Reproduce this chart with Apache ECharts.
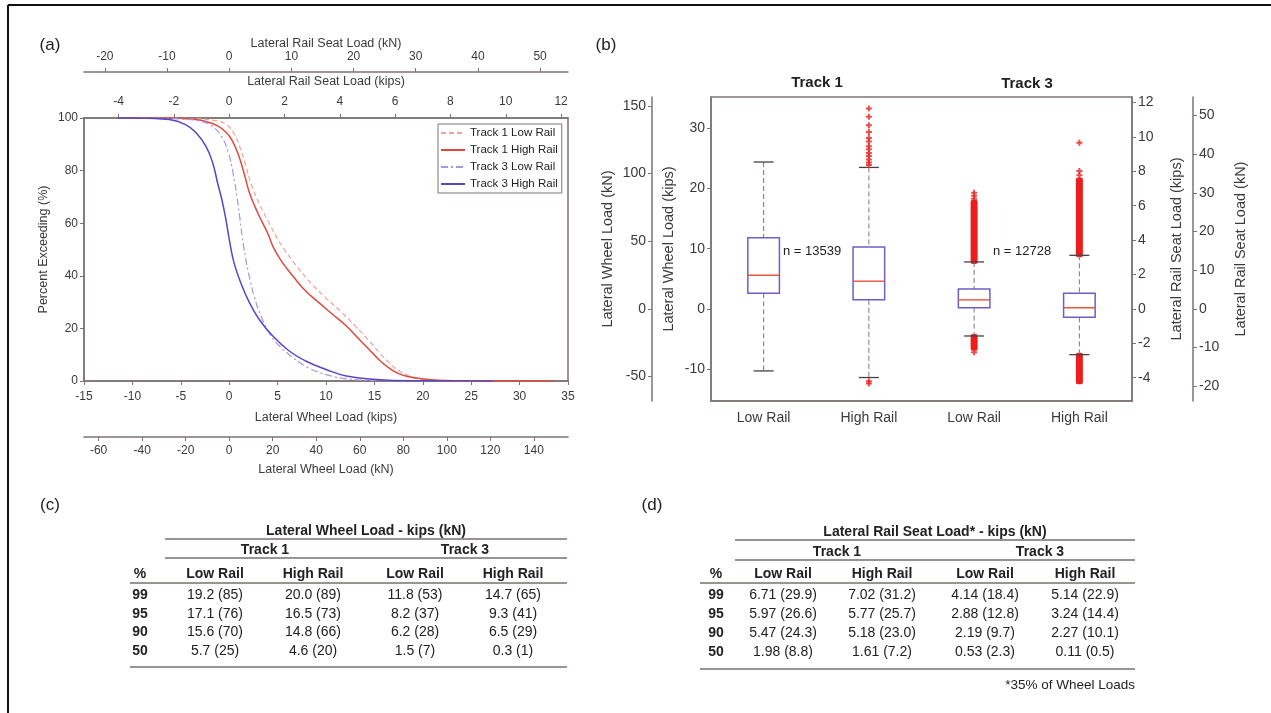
<!DOCTYPE html>
<html>
<head>
<meta charset="utf-8">
<script src="https://cdn.jsdelivr.net/npm/echarts@6/dist/echarts.min.js"></script>
<style>
html, body { margin: 0; padding: 0; background: #fff; }
#chart { width: 1271px; height: 713px; }
</style>
</head>
<body>
<div id="chart"></div>
<script>
// unit conversions used by the twin axes
const KN_PER_KIP = 4.448;
const SEAT_SHARE = 0.35;

// (a) percent exceeding vs lateral wheel load (kips)
const t1LowRail = [[-10,100],[-4,99.8],[-1.5,99],[-0.3,97.5],[0.5,94],[1.1,89],[1.7,82],[2.3,74.5],[3.1,67.5],[4.2,59.5],[5.0,54],[5.7,50],[7.0,43.5],[8.5,37],[10,31.5],[11.5,26.5],[13,21],[14.4,15.5],[15.6,10.5],[16.5,7],[17.1,5],[18.2,2.6],[19.2,1.1],[20.5,0.4],[23,0.1],[27,0]];
const t1HighRail = [[-10,100],[-6,100],[-4,99.6],[-2.5,98.8],[-1.2,97],[-0.3,94.5],[0.3,91.5],[0.9,86.5],[1.5,79.5],[2.1,71.5],[3.0,63.5],[4.0,56],[4.6,50.5],[5.5,45],[6.6,39.8],[7.9,34.2],[9.3,29.7],[10.7,25.3],[12.1,20.9],[13.4,16],[14.4,12.2],[15.5,8],[16.5,5],[17.5,2.8],[18.6,1.6],[20.0,0.8],[21.5,0.3],[24,0.1],[28,0.02],[33.5,0]];
const t3LowRail = [[-9,100],[-5,99.6],[-3,98.8],[-1.8,97],[-0.8,93],[-0.1,87],[0.4,79],[0.8,70],[1.1,62],[1.5,51],[2.0,41],[2.6,32],[3.3,24.5],[4.1,18.5],[5.0,14],[6.2,10],[7.2,7.2],[8.2,5],[9.5,3],[11,1.5],[11.8,1],[13.5,0.35],[16,0.08],[20,0]];
const t3HighRail = [[-11.5,100],[-9.3,100],[-6.2,99.4],[-4.5,97.5],[-3.4,94.3],[-2.4,89.2],[-1.7,82.9],[-1.2,75.3],[-0.76,69],[-0.34,61.4],[0.07,52.5],[0.5,44.9],[1.2,37.3],[2.1,29.7],[3.1,23.4],[4.5,17.1],[6.2,11.4],[7.9,7.6],[10,4.4],[12.1,1.9],[15.2,0.6],[18.6,0.1],[27.2,0]];

// (b) box plots, lateral wheel load (kips)
const railCats = ['Low Rail', 'High Rail', 'Low Rail', 'High Rail'];
const whiskerLow = [-10.3, -11.4, -4.5, -7.6];
const quart1 = [2.6, 1.5, 0.2, -1.4];
const medians = [5.6, 4.6, 1.5, 0.2];
const quart3 = [11.8, 10.3, 3.3, 2.6];
const whiskerHigh = [24.4, 23.5, 7.8, 8.9];
// dense runs of outliers: [category, from, to]
const denseOutliers = [[2, 7.8, 17.8], [2, -6.6, -4.5], [3, 8.9, 21.5], [3, -12.2, -7.6]];
// single outliers: [category, value]
const sparseOutliers = [[1,33.3],[1,31.9],[1,30.5],[1,29.4],[1,28.4],[1,27.8],[1,27.0],[1,26.5],[1,25.9],[1,25.4],[1,24.8],[1,24.3],[1,23.9],[1,-12.0],[1,-12.4],
  [2,18.3],[2,18.8],[2,19.3],[2,-7.2],[3,22.2],[3,22.9],[3,27.6]];
const sampleCounts = ['n = 13539', 'n = 12728'];

// (c) / (d) percentile tables
const pctRows = ['99', '95', '90', '50'];
const wheelT1Low = ['19.2 (85)', '17.1 (76)', '15.6 (70)', '5.7 (25)'];
const wheelT1High = ['20.0 (89)', '16.5 (73)', '14.8 (66)', '4.6 (20)'];
const wheelT3Low = ['11.8 (53)', '8.2 (37)', '6.2 (28)', '1.5 (7)'];
const wheelT3High = ['14.7 (65)', '9.3 (41)', '6.5 (29)', '0.3 (1)'];
const seatT1Low = ['6.71 (29.9)', '5.97 (26.6)', '5.47 (24.3)', '1.98 (8.8)'];
const seatT1High = ['7.02 (31.2)', '5.77 (25.7)', '5.18 (23.0)', '1.61 (7.2)'];
const seatT3Low = ['4.14 (18.4)', '2.88 (12.8)', '2.19 (9.7)', '0.53 (2.3)'];
const seatT3High = ['5.14 (22.9)', '3.24 (14.4)', '2.27 (10.1)', '0.11 (0.5)'];

const FONT = '"Liberation Sans", Arial, sans-serif';
const AX = '#7d7373';
const TXT = '#3a3a3a';

function steps(a, b, s) { const r = []; for (let v = a; v <= b + 1e-9; v += s) r.push(v); return r; }

function valAxis(o) {
  const ax = {
    type: 'value',
    gridIndex: o.grid,
    position: o.pos,
    offset: o.offset || 0,
    min: o.min, max: o.max,
    name: o.name,
    nameLocation: 'middle',
    nameGap: o.gap,
    nameTextStyle: { fontFamily: FONT, fontSize: o.nameSize || 12.5, color: TXT },
    axisLine: { show: true, onZero: false, lineStyle: { color: AX, width: 1.5 } },
    axisTick: { show: true, length: 4, lineStyle: { color: AX } },
    axisLabel: { fontFamily: FONT, fontSize: o.labelSize || 12, color: TXT, margin: o.margin },
    splitLine: { show: false }
  };
  if (o.ticks) {
    ax.axisTick.customValues = o.ticks;
    ax.axisLabel.customValues = o.ticks;
  } else {
    ax.interval = o.interval;
  }
  return ax;
}

const aMin = -15, aMax = 35;
const bMin = -15.3, bMax = 35.2;

const xAxes = [
  valAxis({ grid: 0, pos: 'bottom', min: aMin, max: aMax, interval: 5, name: 'Lateral Wheel Load (kips)', gap: 30, margin: 10 }),
  valAxis({ grid: 0, pos: 'bottom', offset: 56, min: aMin * KN_PER_KIP, max: aMax * KN_PER_KIP, ticks: steps(-60, 140, 20), name: 'Lateral Wheel Load (kN)', gap: 26, margin: 8 }),
  valAxis({ grid: 0, pos: 'top', min: aMin * SEAT_SHARE, max: aMax * SEAT_SHARE, ticks: steps(-4, 12, 2), name: 'Lateral Rail Seat Load (kips)', gap: 30, margin: 10 }),
  valAxis({ grid: 0, pos: 'top', offset: 46, min: aMin * SEAT_SHARE * KN_PER_KIP, max: aMax * SEAT_SHARE * KN_PER_KIP, ticks: steps(-20, 50, 10), name: 'Lateral Rail Seat Load (kN)', gap: 20, margin: 9 }),
  {
    type: 'category', gridIndex: 1, data: railCats,
    axisLine: { onZero: false, lineStyle: { color: AX, width: 1.5 } },
    axisTick: { alignWithLabel: true, length: 4, lineStyle: { color: AX } },
    axisLabel: { fontFamily: FONT, fontSize: 14, color: TXT, margin: 10 }
  }
];

const yAxes = [
  valAxis({ grid: 0, pos: 'left', min: 0, max: 100, interval: 20, name: 'Percent Exceeding (%)', gap: 34, margin: 6 }),
  valAxis({ grid: 1, pos: 'left', min: bMin, max: bMax, ticks: steps(-10, 30, 10), name: 'Lateral Wheel Load (kips)', gap: 35, margin: 6, labelSize: 14, nameSize: 14.5 }),
  valAxis({ grid: 1, pos: 'left', offset: 59, min: bMin * KN_PER_KIP, max: bMax * KN_PER_KIP, ticks: steps(-50, 150, 50), name: 'Lateral Wheel Load (kN)', gap: 37, margin: 6, labelSize: 14, nameSize: 14.5 }),
  valAxis({ grid: 1, pos: 'right', min: bMin * SEAT_SHARE, max: bMax * SEAT_SHARE, ticks: steps(-4, 12, 2), name: 'Lateral Rail Seat Load (kips)', gap: 37, margin: 6, labelSize: 14, nameSize: 14.5 }),
  valAxis({ grid: 1, pos: 'right', offset: 61, min: bMin * SEAT_SHARE * KN_PER_KIP, max: bMax * SEAT_SHARE * KN_PER_KIP, ticks: steps(-20, 50, 10), name: 'Lateral Rail Seat Load (kN)', gap: 40, margin: 6, labelSize: 14, nameSize: 14.5 })
];

function curve(name, data, color, width, dash) {
  return {
    name: name, type: 'line', xAxisIndex: 0, yAxisIndex: 0, data: data,
    showSymbol: false, symbol: 'none', smooth: 0.45,
    lineStyle: { color: color, width: width, type: dash || 'solid' },
    itemStyle: { color: color, opacity: 0 }
  };
}

function renderBox(params, api) {
  const i = api.value(0);
  const band = api.size([1, 0])[0];
  const half = band * 0.15;
  const capHalf = band * 0.095;
  const lo = api.coord([i, api.value(1)]);
  const q1 = api.coord([i, api.value(2)]);
  const md = api.coord([i, api.value(3)]);
  const q3 = api.coord([i, api.value(4)]);
  const hi = api.coord([i, api.value(5)]);
  const cx = md[0];
  const wStyle = { stroke: '#8a7272', lineWidth: 1, lineDash: [5, 3] };
  const cStyle = { stroke: '#4a4040', lineWidth: 1.3 };
  return {
    type: 'group',
    children: [
      { type: 'line', shape: { x1: cx, y1: hi[1], x2: cx, y2: q3[1] }, style: wStyle },
      { type: 'line', shape: { x1: cx, y1: q1[1], x2: cx, y2: lo[1] }, style: wStyle },
      { type: 'line', shape: { x1: cx - capHalf, y1: hi[1], x2: cx + capHalf, y2: hi[1] }, style: cStyle },
      { type: 'line', shape: { x1: cx - capHalf, y1: lo[1], x2: cx + capHalf, y2: lo[1] }, style: cStyle },
      { type: 'rect', shape: { x: cx - half, y: q3[1], width: half * 2, height: q1[1] - q3[1] }, style: { fill: 'none', stroke: '#6c5fcc', lineWidth: 1.5 } },
      { type: 'line', shape: { x1: cx - half, y1: md[1], x2: cx + half, y2: md[1] }, style: { stroke: '#e8553c', lineWidth: 1.4 } }
    ]
  };
}

function renderDense(params, api) {
  const i = api.value(0);
  const a = api.coord([i, api.value(1)]);
  const b = api.coord([i, api.value(2)]);
  const w = 7;
  return {
    type: 'rect',
    shape: { x: a[0] - w / 2, y: Math.min(a[1], b[1]) - 2, width: w, height: Math.abs(a[1] - b[1]) + 4, r: 2 },
    style: { fill: '#ee1d1d' }
  };
}

const series = [
  curve('Track 1 Low Rail', t1LowRail, '#f2a29a', 1.2, [5, 3]),
  curve('Track 1 High Rail', t1HighRail, '#e04a3c', 1.5),
  curve('Track 3 Low Rail', t3LowRail, '#a596e2', 1.2, [7, 3, 2, 3]),
  curve('Track 3 High Rail', t3HighRail, '#5846c8', 1.5),
  {
    type: 'custom', xAxisIndex: 4, yAxisIndex: 1, renderItem: renderDense,
    data: denseOutliers, z: 2
  },
  {
    type: 'custom', xAxisIndex: 4, yAxisIndex: 1, renderItem: renderBox,
    data: railCats.map((c, i) => [i, whiskerLow[i], quart1[i], medians[i], quart3[i], whiskerHigh[i]]), z: 3
  },
  {
    type: 'scatter', xAxisIndex: 4, yAxisIndex: 1, data: sparseOutliers,
    symbol: 'path://M2,0H4V2H6V4H4V6H2V4H0V2H2Z', symbolSize: 6,
    itemStyle: { color: '#ea1f1f' }, z: 4
  }
];

// ---- static text: panel letters, track headings, annotations, tables
function txt(x, y, s, size, bold, align) {
  return {
    type: 'text', silent: true,
    style: { x: x, y: y, text: s, fontFamily: FONT, fontSize: size, fontWeight: bold ? 'bold' : 'normal', fill: '#222', align: align || 'center', verticalAlign: 'middle' }
  };
}
function hline(x1, x2, y) {
  return { type: 'line', silent: true, shape: { x1: x1, y1: y, x2: x2, y2: y }, style: { stroke: '#7a6e6e', lineWidth: 1.5 } };
}

function table(t) {
  const el = [];
  el.push(txt((t.lineX1 + t.right) / 2, t.titleY, t.title, 14, true));
  el.push(hline(t.lineX1, t.right, t.titleY + 8));
  el.push(txt(t.trackX[0], t.trackY, 'Track 1', 14, true));
  el.push(txt(t.trackX[1], t.trackY, 'Track 3', 14, true));
  el.push(hline(t.lineX1, t.right, t.trackY + 8));
  const heads = ['%', 'Low Rail', 'High Rail', 'Low Rail', 'High Rail'];
  heads.forEach((h, k) => el.push(txt(t.colX[k], t.headY, h, 14, true)));
  el.push(hline(t.lineX0, t.right, t.headY + 9));
  pctRows.forEach((p, r) => {
    const y = t.rowY[r];
    el.push(txt(t.colX[0], y, p, 14, true));
    t.cols.forEach((col, k) => el.push(txt(t.colX[k + 1], y, col[r], 14, false)));
  });
  el.push(hline(t.lineX0, t.right, t.bottomY));
  return el;
}

const graphics = [
  { type: 'line', silent: true, shape: { x1: 8, y1: 5, x2: 8, y2: 713 }, style: { stroke: '#111', lineWidth: 2 } },
  { type: 'line', silent: true, shape: { x1: 8, y1: 5, x2: 1271, y2: 5 }, style: { stroke: '#111', lineWidth: 2 } },
  txt(50, 45, '(a)', 17, false),
  txt(606, 45, '(b)', 17, false),
  txt(50, 505, '(c)', 17, false),
  txt(652, 505, '(d)', 17, false),
  txt(817, 83, 'Track 1', 15, true),
  txt(1027, 84, 'Track 3', 15, true),
  txt(783, 251, sampleCounts[0], 13, false, 'left'),
  txt(993, 251, sampleCounts[1], 13, false, 'left'),
  txt(1135, 685, '*35% of Wheel Loads', 13.5, false, 'right')
].concat(
  table({
    title: 'Lateral Wheel Load - kips (kN)', titleY: 531, trackY: 550, headY: 574,
    rowY: [595, 614, 632, 651], bottomY: 667,
    lineX0: 130, lineX1: 165, right: 567,
    trackX: [265, 465], colX: [140, 215, 313, 415, 513],
    cols: [wheelT1Low, wheelT1High, wheelT3Low, wheelT3High]
  }),
  table({
    title: 'Lateral Rail Seat Load* - kips (kN)', titleY: 532, trackY: 552, headY: 574,
    rowY: [595, 614, 633, 652], bottomY: 669,
    lineX0: 700, lineX1: 735, right: 1135,
    trackX: [837, 1040], colX: [716, 783, 882, 985, 1085],
    cols: [seatT1Low, seatT1High, seatT3Low, seatT3High]
  })
);

const chart = echarts.init(document.getElementById('chart'), null, { renderer: 'canvas' });
chart.setOption({
  backgroundColor: '#fff',
  animation: false,
  textStyle: { fontFamily: FONT },
  grid: [
    { left: 84, top: 118, width: 484, height: 263, show: true, borderColor: AX, borderWidth: 1.5, backgroundColor: 'transparent' },
    { left: 711, top: 97, width: 421, height: 304, show: true, borderColor: AX, borderWidth: 1.5, backgroundColor: 'transparent' }
  ],
  legend: {
    data: ['Track 1 Low Rail', 'Track 1 High Rail', 'Track 3 Low Rail', 'Track 3 High Rail'],
    orient: 'vertical', left: 438, top: 124,
    itemWidth: 24, itemHeight: 8, itemGap: 5,
    padding: [3, 4, 3, 2],
    borderColor: AX, borderWidth: 1,
    itemStyle: { opacity: 0 },
    textStyle: { fontFamily: FONT, fontSize: 11.5, color: '#222' }
  },
  xAxis: xAxes,
  yAxis: yAxes,
  series: series,
  graphic: graphics
});
</script>
</body>
</html>
